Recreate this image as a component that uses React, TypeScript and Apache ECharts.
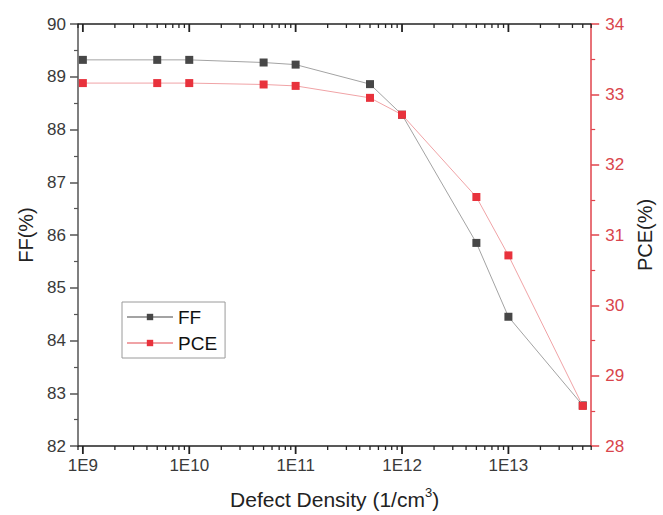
import React, { useEffect, useRef } from 'react';
import * as echarts from 'echarts';

const defectDensity = [1e9, 5e9, 1e10, 5e10, 1e11, 5e11, 1e12, 5e12, 1e13, 5e13];
const ffValues = [89.32, 89.32, 89.32, 89.27, 89.23, 88.86, 88.28, 85.85, 84.45, 82.77];
const pceValues = [33.16, 33.16, 33.16, 33.14, 33.12, 32.95, 32.71, 31.54, 30.71, 28.57];
const seriesNames = ['FF', 'PCE'];
const xMin = 9e8;
const xMax = 6e13;
const majorExponents = [9, 10, 11, 12, 13];
const minorMultipliers = [2, 3, 4, 5, 6, 7, 8, 9];
const ffAxis = { min: 82, max: 90, interval: 1 };
const pceAxis = { min: 28, max: 34, interval: 1 };

const FONT = '"Liberation Sans", Arial, sans-serif';
const FRAME = '#222222';
const LEFT_AXIS = '#555555';
const RED = '#e0434b';

export default function App() {
  const ref = useRef<HTMLDivElement>(null);

  useEffect(() => {
    if (!ref.current) return;
    const chart = echarts.init(ref.current, undefined, { renderer: 'svg' });

    const lxMin = Math.log10(xMin);
    const lxMax = Math.log10(xMax);

    // x tick marks (log decades + 2..9 minors) as thin rect symbols hanging
    // downward from the bottom frame (outside) and from the top frame (inside)
    const tickItems: any[] = [];
    const pushTick = (v: number, major: boolean) => {
      const len = major ? 8 : 4;
      const w = major ? 1.8 : 1.3;
      for (const y of [ffAxis.min, ffAxis.max]) {
        tickItems.push({
          value: [v, y],
          symbolSize: [w, len],
          symbolOffset: [0, len / 2],
        });
      }
    };
    for (const e of majorExponents) pushTick(Math.pow(10, e), true);
    for (let e = 8; e <= 13; e++) {
      for (const m of minorMultipliers) {
        const v = m * Math.pow(10, e);
        if (v >= xMin && v <= xMax) pushTick(v, false);
      }
    }

    const option: any = {
      animation: false,
      backgroundColor: '#ffffff',
      textStyle: { fontFamily: FONT },
      grid: { left: 78, right: 62, top: 24, bottom: 68, containLabel: false },
      legend: {
        data: seriesNames,
        orient: 'vertical',
        left: 122,
        top: 302,
        borderColor: '#9a9a9a',
        borderWidth: 1,
        borderRadius: 0,
        padding: [5, 8, 5, 4],
        itemWidth: 46,
        itemHeight: 8,
        itemGap: 6,
        textStyle: { fontSize: 19, color: '#111111', fontFamily: FONT, lineHeight: 20 },
      },
      xAxis: [
        {
          type: 'log',
          logBase: 10,
          min: xMin,
          max: xMax,
          position: 'bottom',
          axisLine: { show: false },
          axisTick: { show: false },
          axisLabel: { show: false },
          splitLine: { show: false },
          minorTick: { show: false },
        },
        {
          type: 'value',
          min: lxMin,
          max: lxMax,
          position: 'bottom',
          splitLine: { show: false },
          axisLine: { show: true, lineStyle: { color: FRAME, width: 1.6 } },
          axisTick: { show: false },
          axisLabel: {
            show: true,
            customValues: majorExponents,
            formatter: (v: number) => '1E' + Math.round(v),
            fontSize: 17,
            color: '#3a3a3a',
            fontFamily: FONT,
            margin: 11,
          },
          name: '{t|Defect Density (1/cm}{sup|3}{t|)}',
          nameLocation: 'middle',
          nameGap: 40,
          nameTextStyle: {
            fontFamily: FONT,
            fontSize: 21,
            color: '#222222',
            rich: {
              t: { fontSize: 21, color: '#222222', fontFamily: FONT, lineHeight: 24, verticalAlign: 'bottom' },
              sup: { fontSize: 13, color: '#222222', fontFamily: FONT, lineHeight: 24, verticalAlign: 'top', padding: [0, 0, 8, 0] },
            },
          },
        },
        {
          type: 'value',
          min: lxMin,
          max: lxMax,
          position: 'top',
          splitLine: { show: false },
          axisLine: { show: true, lineStyle: { color: FRAME, width: 1.6 } },
          axisTick: { show: false },
          axisLabel: { show: false },
        },
      ],
      yAxis: [
        {
          type: 'value',
          position: 'left',
          min: ffAxis.min,
          max: ffAxis.max,
          interval: ffAxis.interval,
          axisLine: { show: true, lineStyle: { color: LEFT_AXIS, width: 1.5 } },
          axisTick: { show: true, length: 8, inside: false, lineStyle: { color: LEFT_AXIS, width: 1.5 } },
          minorTick: { show: true, splitNumber: 2, length: 4, lineStyle: { color: LEFT_AXIS, width: 1.2 } },
          axisLabel: { fontSize: 17, color: '#3a3a3a', fontFamily: FONT, margin: 12 },
          splitLine: { show: false },
          name: 'FF(%)',
          nameLocation: 'middle',
          nameRotate: 90,
          nameGap: 40,
          nameTextStyle: { fontSize: 20, color: '#222222', fontFamily: FONT },
        },
        {
          type: 'value',
          position: 'right',
          min: pceAxis.min,
          max: pceAxis.max,
          interval: pceAxis.interval,
          axisLine: { show: true, lineStyle: { color: RED, width: 1.5 } },
          axisTick: { show: true, length: 8, inside: false, lineStyle: { color: RED, width: 1.5 } },
          minorTick: { show: true, splitNumber: 2, length: 4, lineStyle: { color: RED, width: 1.2 } },
          axisLabel: { fontSize: 17, color: '#d9454c', fontFamily: FONT, margin: 14 },
          splitLine: { show: false },
          name: 'PCE(%)',
          nameLocation: 'middle',
          nameRotate: 90,
          nameGap: 38,
          nameTextStyle: { fontSize: 20, color: '#222222', fontFamily: FONT },
        },
      ],
      series: [
        {
          name: 'xTicks',
          type: 'scatter',
          xAxisIndex: 0,
          yAxisIndex: 0,
          clip: false,
          symbol: 'rect',
          itemStyle: { color: FRAME, opacity: 1 },
          emphasis: { disabled: true },
          tooltip: { show: false },
          z: 5,
          data: tickItems,
        },
        {
          name: seriesNames[0],
          type: 'line',
          xAxisIndex: 0,
          yAxisIndex: 0,
          data: defectDensity.map((x, i) => [x, ffValues[i]]),
          symbol: 'rect',
          symbolSize: 8,
          itemStyle: { color: '#474747' },
          lineStyle: { color: '#a3a3a3', width: 1 },
          z: 2,
        },
        {
          name: seriesNames[1],
          type: 'line',
          xAxisIndex: 0,
          yAxisIndex: 1,
          data: defectDensity.map((x, i) => [x, pceValues[i]]),
          symbol: 'rect',
          symbolSize: 8,
          itemStyle: { color: '#e8323c' },
          lineStyle: { color: '#f0a3a6', width: 1 },
          z: 3,
        },
      ],
    };

    chart.setOption(option);
    return () => chart.dispose();
  }, []);

  return (
    <div
      ref={ref}
      style={{ position: 'fixed', left: 0, top: 0, width: 663, height: 515, background: '#fff' }}
    />
  );
}
